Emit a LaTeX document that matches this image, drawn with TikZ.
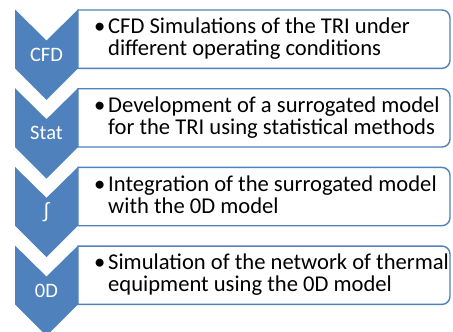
\documentclass[tikz,border=0pt]{standalone}
\usepackage{fontspec}
\setmainfont{Carlito}
\newfontfamily\symfont{Liberation Sans}
\definecolor{accent}{HTML}{4F81BD}
\tikzset{
  chev/.style={fill=accent, draw=none},
  listbox/.style={draw=accent, line width=1.4pt, fill=white},
  chevlabel/.style={text=white, font=\fontsize{20.5}{22}\selectfont, inner sep=0pt},
  itemtext/.style={anchor=west, align=left, inner sep=0pt, font=\fontsize{22.6}{22}\selectfont},
}
\newcommand{\stepbullet}{\rule{0pt}{16.8pt}\makebox[14pt][l]{\textbullet}}
\newcommand{\stepindent}{\rule[-5.3pt]{0pt}{5.3pt}\hspace*{14pt}}
\begin{document}
\begin{tikzpicture}[x=1pt, y=-1pt]
\useasboundingbox (0,0) rectangle (453,332);
% one chevron and one box with rounded right corners per step; \T is the top of the step
\foreach \i/\lab/\la/\lb in {
  0/CFD/{CFD Simulations of the TRI under}/{different operating conditions},
  1/Stat/{Development of a surrogated model}/{for the TRI using statistical methods},
  2/{{\symfont ∫}}/{Integration of the surrogated model}/{with the 0D model},
  3/0D/{Simulation of the network of thermal}/{equipment using the 0D model}}{
  \pgfmathsetmacro{\T}{9.5+78.7*\i}
  \fill[chev] (15,\T) -- (46.5,\T+31) -- (78,\T) -- (78,\T+58.8)
     -- (46.5,\T+90.3) -- (15,\T+58.8) -- cycle;
  \node[chevlabel] (c\i) at (46.5,\T+45) {\lab};
  \draw[listbox] (78,\T+0.5) -- (442,\T+0.5) arc[start angle=-90, end angle=0, radius=8]
     -- (450,\T+50.8) arc[start angle=0, end angle=90, radius=8] -- (78,\T+58.8) -- cycle;
  \node[itemtext] (t\i) at (94,\T+29.5) {\stepbullet\la\\\stepindent\lb};
}
\end{tikzpicture}
\end{document}
